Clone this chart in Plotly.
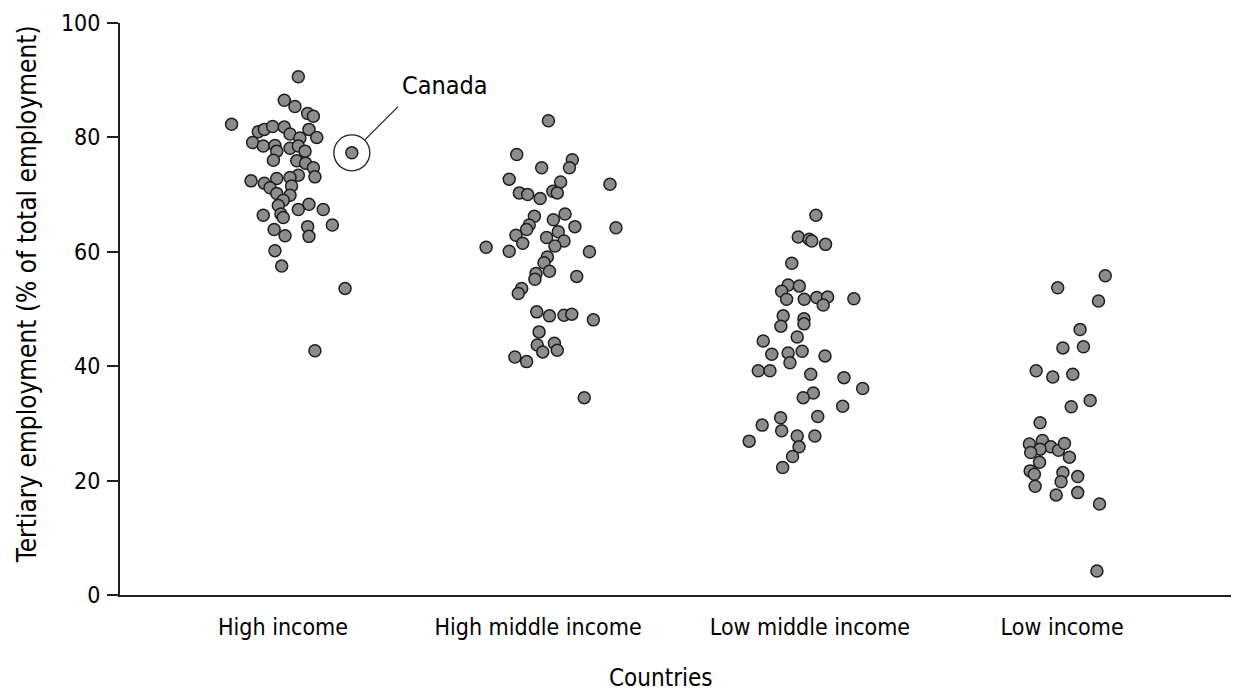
import plotly.graph_objects as go

categories = ["High income", "High middle income", "Low middle income", "Low income"]
category_x = [1.0, 1.982, 3.029, 4.0]

high_income_values = [90.6, 86.5, 85.4, 84.2, 83.7, 82.3, 81.0, 81.4, 81.9, 81.8, 81.4, 79.1, 78.5,
                      78.6, 80.6, 79.9, 80.0, 78.1, 78.5, 77.6, 77.6, 76.0, 75.9, 75.5, 74.7, 73.1,
                      73.4, 73.0, 72.8, 72.4, 72.0, 71.2, 71.5, 70.2, 69.9, 69.0, 68.1, 66.6, 66.4,
                      66.0, 67.4, 68.3, 67.4, 64.7, 64.4, 62.7, 63.9, 62.8, 60.2, 57.5, 53.6, 42.7]
high_income_jitter = [0.059, 0.005, 0.046, 0.095, 0.117, -0.198, -0.095, -0.072, -0.040, 0.005, 0.100,
                      -0.117, -0.076, -0.031, 0.027, 0.065, 0.130, 0.027, 0.059, 0.085, -0.024, -0.037,
                      0.053, 0.087, 0.117, 0.123, 0.059, 0.027, -0.024, -0.123, -0.072, -0.050, 0.033,
                      -0.024, 0.027, 0.001, -0.018, -0.008, -0.076, 0.001, 0.059, 0.100, 0.155, 0.190,
                      0.095, 0.100, -0.034, 0.008, -0.031, -0.005, 0.239, 0.123]

high_middle_values = [82.9, 77.0, 76.1, 74.7, 74.7, 72.7, 72.2, 71.8, 70.3, 70.0, 69.3, 70.6, 70.3,
                      66.6, 66.2, 65.6, 64.7, 63.9, 64.4, 64.2, 63.5, 62.9, 61.5, 62.5, 61.9, 61.0,
                      60.8, 60.1, 60.0, 59.1, 58.1, 56.6, 56.2, 55.2, 55.7, 53.6, 52.7, 49.5, 48.8,
                      48.9, 49.1, 48.1, 46.0, 43.7, 44.0, 42.5, 42.8, 41.6, 40.8, 34.5]
high_middle_jitter = [0.040, -0.082, 0.132, 0.121, 0.014, -0.111, 0.087, 0.277, -0.072, -0.040, 0.008,
                      0.057, 0.074, 0.104, -0.014, 0.059, -0.034, -0.044, 0.142, 0.300, 0.078, -0.085,
                      -0.059, 0.033, 0.100, 0.065, -0.200, -0.111, 0.198, 0.036, 0.023, 0.044, -0.008,
                      -0.012, 0.149, -0.063, -0.076, -0.005, 0.044, 0.100, 0.130, 0.213, 0.004, -0.003,
                      0.063, 0.018, 0.074, -0.089, -0.044, 0.178]

low_middle_values = [66.4, 62.6, 62.2, 61.9, 61.3, 58.0, 54.2, 54.0, 53.1, 51.7, 51.7, 52.0, 52.1,
                     50.7, 51.8, 48.8, 48.3, 47.4, 47.0, 44.4, 45.1, 42.1, 42.3, 42.6, 41.8, 40.6,
                     39.2, 39.2, 38.6, 38.0, 36.1, 35.3, 34.5, 33.0, 31.2, 31.0, 29.7, 28.7, 27.8,
                     27.8, 26.9, 25.9, 24.2, 22.3]
low_middle_jitter = [0.023, -0.045, -0.003, 0.007, 0.060, -0.070, -0.084, -0.041, -0.109, -0.090, -0.022,
                     0.026, 0.068, 0.051, 0.169, -0.103, -0.023, -0.023, -0.112, -0.180, -0.049, -0.147,
                     -0.084, -0.030, 0.058, -0.077, -0.199, -0.154, 0.003, 0.131, 0.203, 0.013, -0.026,
                     0.126, 0.030, -0.113, -0.184, -0.109, -0.049, 0.019, -0.234, -0.042, -0.067, -0.105]

low_income_values = [55.8, 53.7, 51.4, 46.4, 43.2, 43.4, 39.2, 38.1, 38.6, 34.0, 32.9, 30.1, 26.4,
                     27.0, 25.9, 25.5, 25.3, 26.5, 24.9, 24.1, 23.2, 21.7, 21.1, 21.4, 19.8, 20.7,
                     19.0, 17.5, 17.9, 15.9, 4.2]
low_income_jitter = [0.166, -0.017, 0.140, 0.069, 0.003, 0.082, -0.100, -0.036, 0.041, 0.108, 0.035,
                     -0.085, -0.126, -0.076, -0.044, -0.085, -0.014, 0.009, -0.121, 0.028, -0.087, -0.123,
                     -0.107, 0.003, -0.004, 0.060, -0.104, -0.023, 0.060, 0.144, 0.134]

canada_label = "Canada"
canada_value = 77.3
canada_jitter = 0.265

groups = [
    (high_income_values, high_income_jitter),
    (high_middle_values, high_middle_jitter),
    (low_middle_values, low_middle_jitter),
    (low_income_values, low_income_jitter),
]

FONT = "Liberation Sans Narrow, DejaVu Sans Condensed, Roboto Condensed, Roboto, sans-serif"
TEXT_COLOR = "#000000"
marker_style = dict(size=12, color="#8c8c8c", line=dict(color="#1e1e1e", width=1.5))

fig = go.Figure()
for (vals, jit), cx, name in zip(groups, category_x, categories):
    fig.add_trace(go.Scatter(
        x=[cx + j for j in jit], y=vals, mode="markers", name=name,
        marker=marker_style, showlegend=False, hoverinfo="y"))

canada_x = category_x[0] + canada_jitter
fig.add_trace(go.Scatter(x=[canada_x], y=[canada_value], mode="markers", name=canada_label,
                         marker=marker_style, showlegend=False))

# circle around Canada and leader line
fig.add_shape(type="circle", xref="x", yref="y", xsizemode="pixel", ysizemode="pixel",
              xanchor=canada_x, yanchor=canada_value, x0=-18, x1=18, y0=-18, y1=18,
              line=dict(color="#1e1e1e", width=1.3))
fig.add_shape(type="line", xref="x", yref="y", xsizemode="pixel", ysizemode="pixel",
              xanchor=canada_x, yanchor=canada_value, x0=13, y0=13, x1=46, y1=46,
              line=dict(color="#1e1e1e", width=1.3))
fig.add_annotation(x=canada_x, y=canada_value, xref="x", yref="y", text=canada_label,
                   showarrow=False, xanchor="left", yanchor="middle", xshift=48, yshift=67,
                   font=dict(family=FONT, size=25, color=TEXT_COLOR))

fig.add_annotation(text="Countries", xref="paper", yref="paper", x=0.4835, y=-0.145,
                   showarrow=False, xanchor="center", yanchor="middle",
                   font=dict(family=FONT, size=24, color=TEXT_COLOR))
fig.add_annotation(text="Tertiary employment (% of total employment)", xref="paper", yref="paper",
                   x=-0.0831, y=0.526, textangle=-90, showarrow=False,
                   xanchor="center", yanchor="middle",
                   font=dict(family=FONT, size=26, color=TEXT_COLOR))

# the page body adds an 8px offset, so margins are compensated
fig.update_layout(
    width=1239, height=692,
    margin=dict(l=112, r=8, t=15, b=105, autoexpand=False),
    paper_bgcolor="white", plot_bgcolor="white",
    xaxis=dict(range=[0.3724, 4.681], tickvals=category_x, ticktext=categories,
               showgrid=False, zeroline=False, showline=True, linecolor="#1e1e1e", linewidth=2,
               ticks="", ticklabelstandoff=10, automargin=False,
               tickfont=dict(family=FONT, size=23, color=TEXT_COLOR)),
    yaxis=dict(range=[0, 100], tickvals=[0, 20, 40, 60, 80, 100],
               showgrid=False, zeroline=False, showline=True, linecolor="#1e1e1e", linewidth=2,
               ticks="outside", ticklen=11, tickwidth=1.5, tickcolor="#1e1e1e",
               ticklabelstandoff=2, automargin=False,
               tickfont=dict(family=FONT, size=23, color=TEXT_COLOR)),
)

fig.write_html("out.html")
